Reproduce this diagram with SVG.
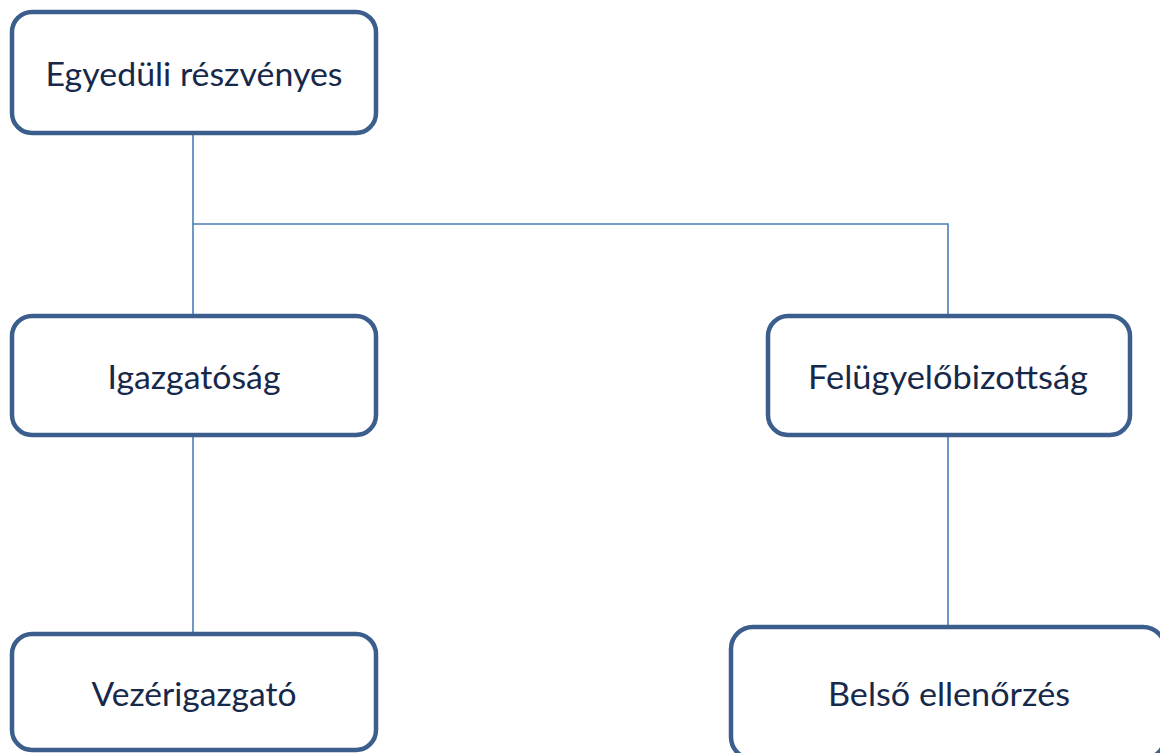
<svg xmlns="http://www.w3.org/2000/svg" width="1160" height="753" viewBox="0 0 1160 753">
<style>
.box{fill:#ffffff;stroke:#3b5e8c;stroke-width:4.5}
.lbl{font-family:Lato,"Open Sans","Liberation Sans",sans-serif;font-size:32px;fill:#17294a;text-anchor:middle}
.conn{fill:none;stroke:#4a7ebb;stroke-width:1.6}
</style>
<rect width="1160" height="753" fill="#ffffff"/>
<g id="connectors">
<path class="conn" d="M193,133 V316 M193,224 H948 V316"/>
<path class="conn" d="M193,435 V634"/>
<path class="conn" d="M948,435 V630"/>
</g>
<g id="node-egyeduli">
<rect class="box" x="12" y="12" width="364" height="121" rx="20"/>
<text class="lbl" x="194" y="86" textLength="297" lengthAdjust="spacingAndGlyphs">Egyedüli részvényes</text>
</g>
<g id="node-igazgatosag">
<rect class="box" x="12" y="316" width="364" height="119" rx="20"/>
<text class="lbl" x="194" y="389" textLength="173" lengthAdjust="spacingAndGlyphs">Igazgatóság</text>
</g>
<g id="node-felugyelo">
<rect class="box" x="768" y="316" width="362" height="119" rx="20"/>
<text class="lbl" x="948" y="389" textLength="280" lengthAdjust="spacingAndGlyphs">Felügyelőbizottság</text>
</g>
<g id="node-vezerigazgato">
<rect class="box" x="12" y="634" width="364" height="116" rx="20"/>
<text class="lbl" x="194" y="706" textLength="205" lengthAdjust="spacingAndGlyphs">Vezérigazgató</text>
</g>
<g id="node-belso">
<rect class="box" x="731" y="627" width="434" height="132" rx="22"/>
<text class="lbl" x="949" y="706" textLength="242" lengthAdjust="spacingAndGlyphs">Belső ellenőrzés</text>
</g>
</svg>
